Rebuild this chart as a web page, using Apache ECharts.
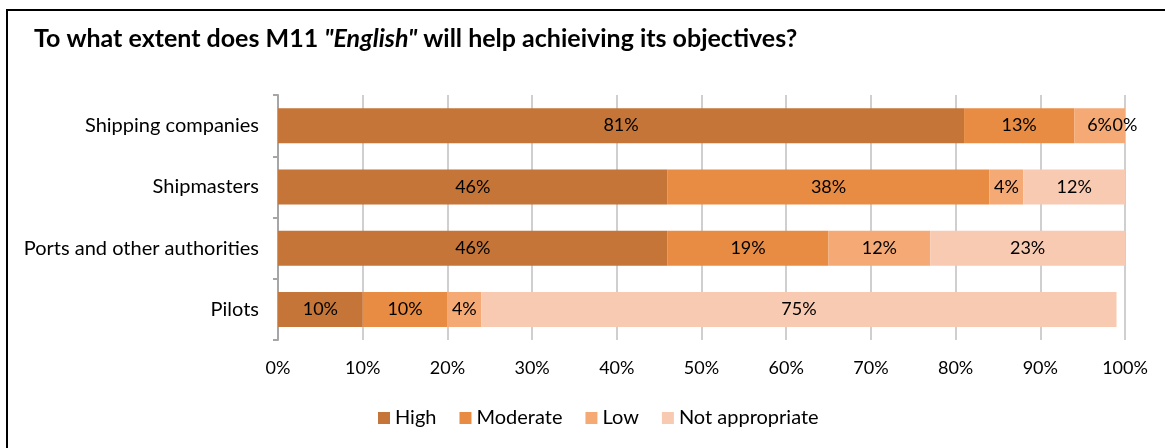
<!DOCTYPE html>
<html>
<head>
<meta charset="utf-8">
<script src="https://cdn.jsdelivr.net/npm/echarts@6/dist/echarts.min.js"></script>
<style>
html, body { margin: 0; padding: 0; background: #fff; }
#chart { width: 1165px; height: 448px; }
</style>
</head>
<body>
<div id="chart"></div>
<script>
// Survey groups, top to bottom
const categories = ['Shipping companies', 'Shipmasters', 'Ports and other authorities', 'Pilots'];
// Share of answers per rating (percent)
const high = [81, 46, 46, 10];
const moderate = [13, 38, 19, 10];
const low = [6, 4, 12, 4];
const notAppropriate = [0, 12, 23, 75];
const ratingNames = ['High', 'Moderate', 'Low', 'Not appropriate'];
const ratingColors = ['#C47537', '#E88B43', '#F5AA76', '#F8CAB1'];
const xTicks = [0, 10, 20, 30, 40, 50, 60, 70, 80, 90, 100];

const FONT = 'Lato';
const seriesValues = [high, moderate, low, notAppropriate];

const chart = echarts.init(document.getElementById('chart'), null, { renderer: 'canvas' });
chart.setOption({
  animation: false,
  backgroundColor: '#fff',
  textStyle: { fontFamily: FONT },
  graphic: [{
    type: 'rect',
    shape: { x: 7, y: 10, width: 1200, height: 500 },
    style: { fill: 'none', stroke: '#000', lineWidth: 2 },
    silent: true
  }],
  title: {
    left: 29,
    top: 21,
    text: '{b|To what extent does M11 }{i|"English"}{b| will help achieiving its objectives?}',
    textStyle: {
      rich: {
        b: { fontFamily: FONT, fontSize: 25, fontWeight: 'bold', color: '#000' },
        i: { fontFamily: FONT, fontSize: 25, fontWeight: 'bold', fontStyle: 'italic', color: '#000' }
      }
    }
  },
  legend: {
    bottom: 15,
    left: 373,
    itemWidth: 12,
    itemHeight: 12,
    itemGap: 23,
    icon: 'rect',
    textStyle: { fontFamily: FONT, fontSize: 20, color: '#000' },
    data: ratingNames
  },
  grid: { left: 278, right: 40, top: 95, bottom: 108, containLabel: false },
  xAxis: {
    type: 'value',
    min: 0,
    max: 100,
    interval: 10,
    axisLine: { show: false },
    axisTick: { show: false },
    splitLine: { show: true, lineStyle: { color: '#CFCFCF', width: 2 } },
    axisLabel: {
      margin: 19,
      fontFamily: FONT,
      fontSize: 18,
      color: '#000',
      formatter: v => xTicks.includes(v) ? v + '%' : ''
    }
  },
  yAxis: {
    type: 'category',
    inverse: true,
    data: categories,
    axisLine: { show: true, lineStyle: { color: '#A6A6A6', width: 2 } },
    axisTick: { show: true, length: 5, inside: false, lineStyle: { color: '#A6A6A6', width: 2 } },
    axisLabel: { margin: 19, fontFamily: FONT, fontSize: 20, color: '#000' }
  },
  series: ratingNames.map((name, i) => ({
    name: name,
    type: 'bar',
    stack: 'total',
    barWidth: 35,
    itemStyle: { color: ratingColors[i] },
    label: {
      show: true,
      position: 'inside',
      fontFamily: FONT,
      fontSize: 18,
      color: '#000',
      formatter: p => p.value + '%'
    },
    data: seriesValues[i]
  }))
});
</script>
</body>
</html>
